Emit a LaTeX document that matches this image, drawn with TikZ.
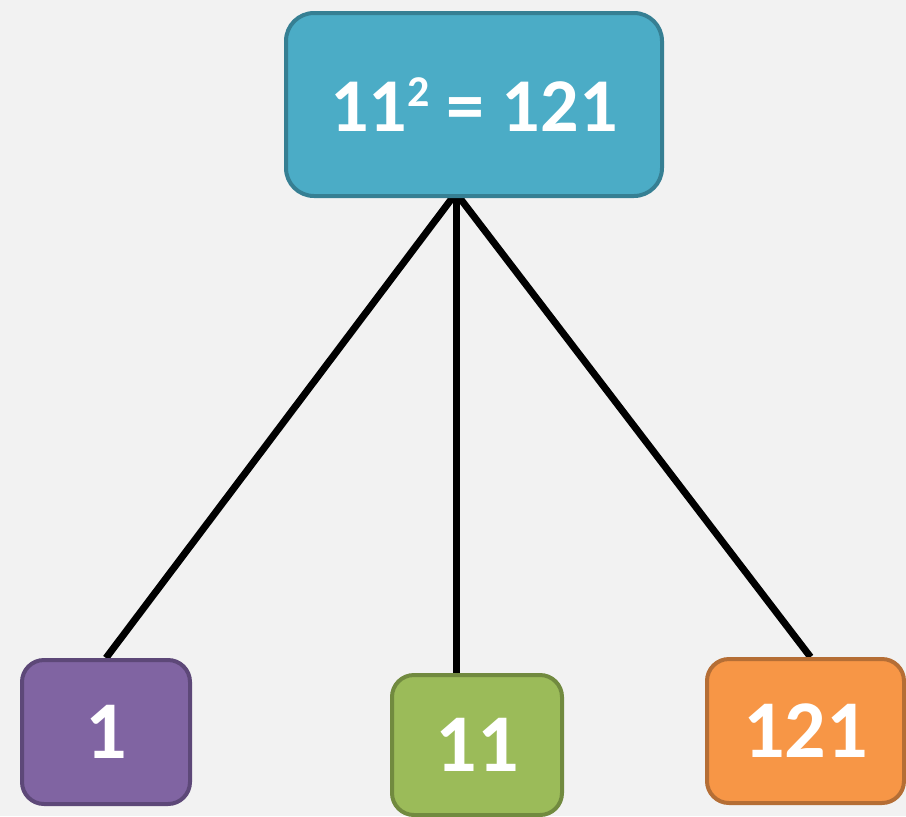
\documentclass[tikz,border=0pt]{standalone}
\usepackage{fontspec}
\setmainfont{Carlito}
\usetikzlibrary{backgrounds}
\definecolor{bg}{HTML}{F2F2F2}
\definecolor{aquaF}{HTML}{4BACC6}
\definecolor{aquaD}{HTML}{367F93}
\definecolor{purpF}{HTML}{8064A2}
\definecolor{purpD}{HTML}{5D4878}
\definecolor{grnF}{HTML}{9BBB59}
\definecolor{grnD}{HTML}{718A3F}
\definecolor{orgF}{HTML}{F79646}
\definecolor{orgD}{HTML}{B56E35}
\tikzset{
  box/.style={draw, line width=2pt, rounded corners=11pt, inner sep=0pt,
    text=white, font=\fontsize{41}{41}\selectfont\bfseries, align=center},
  link/.style={line width=3.5pt, black}
}
\begin{document}
\begin{tikzpicture}[x=0.5pt,y=-0.5pt]
\useasboundingbox (0,0) rectangle (906,816);
\node[box, fill=aquaF, draw=aquaD, rounded corners=14pt, minimum width=188pt, minimum height=91.5pt,
  font=\fontsize{38}{38}\selectfont\bfseries] (top) at (474,104.5)
  {11\raisebox{12.5pt}{\fontsize{22}{22}\selectfont 2} = 121};
\node[box, fill=purpF, draw=purpD, minimum width=84pt, minimum height=72pt] (a) at (106,732) {1};
\node[box, fill=grnF, draw=grnD, minimum width=85pt, minimum height=70pt] (b) at (477,745) {11};
\node[box, fill=orgF, draw=orgD, minimum width=98.5pt, minimum height=72pt] (c) at (805.5,731) {121};
\coordinate (apex) at (456,193);
\begin{pgfonlayer}{background}
\fill[bg] (0,0) rectangle (906,816);
\draw[link] (apex) -- (a.north);
\draw[link] (apex) -- (apex |- b.north);
\draw[link] (apex) -- ([xshift=2.5pt]c.north);
\end{pgfonlayer}
\end{tikzpicture}
\end{document}
